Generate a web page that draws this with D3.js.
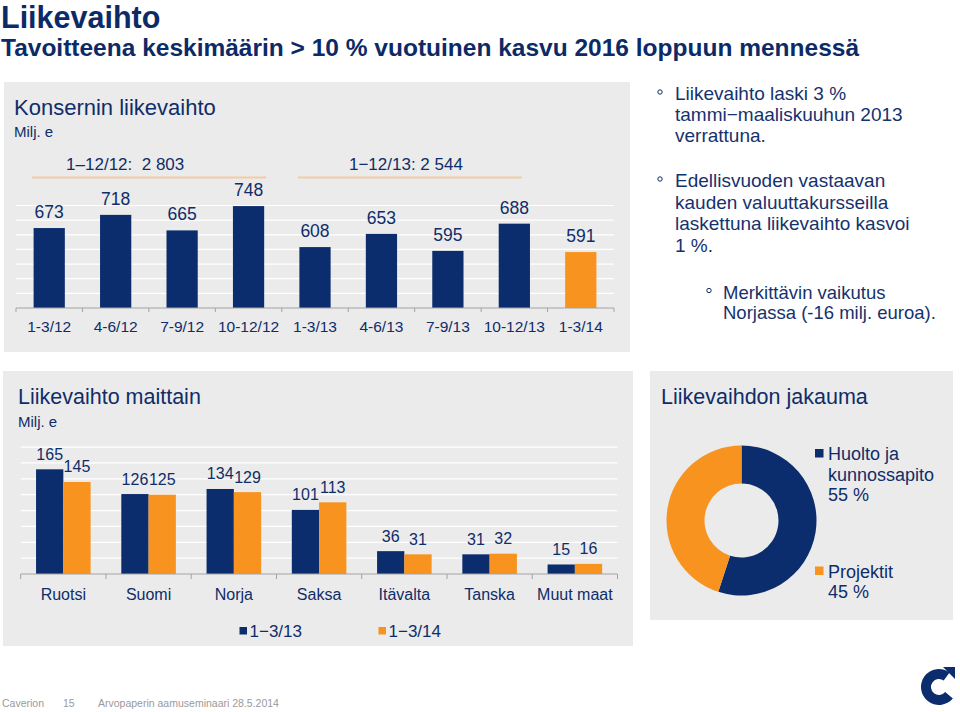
<!DOCTYPE html>
<html>
<head>
<meta charset="utf-8">
<script src="https://cdn.jsdelivr.net/npm/d3@7"></script>
<style>
  html, body { margin: 0; padding: 0; background: #ffffff; }
  svg { display: block; font-family: "Liberation Sans", Arial, sans-serif; }
</style>
</head>
<body>
<svg id="chart" width="960" height="712"></svg>
<script>
// ---------- DATA ----------
const quarters = ["1-3/12", "4-6/12", "7-9/12", "10-12/12", "1-3/13", "4-6/13", "7-9/13", "10-12/13", "1-3/14"];
const quarterValues = [673, 718, 665, 748, 608, 653, 595, 688, 591];
const yearLabels = ["1\u201312/12:  2 803", "1\u221212/13: 2 544"];
const yearQuarterIdx = [[0, 3], [4, 7]];

const countries = ["Ruotsi", "Suomi", "Norja", "Saksa", "It\u00e4valta", "Tanska", "Muut maat"];
const seriesNames = ["1\u22123/13", "1\u22123/14"];
const values2013 = [165, 126, 134, 101, 36, 31, 15];
const values2014 = [145, 125, 129, 113, 31, 32, 16];

const segmentNames = [["Huolto ja", "kunnossapito"], ["Projektit"]];
const segmentShares = [55, 45];

const topTicks = [450, 500, 550, 600, 650, 700, 750];
const bottomTicks = [25, 50, 75, 100, 125, 150, 175, 200];

// ---------- STYLE ----------
const NAVY = "#0b2d6d";
const ORANGE = "#f7931e";
const TEXT = "#0f2d69";
const PANEL = "#ebebeb";
const AXIS = "#a3a3a3";

const svg = d3.select("#chart");

// Header
svg.append("text").attr("x", 1).attr("y", 28).attr("font-size", 30.5).attr("font-weight", "bold")
  .attr("fill", "#0c2b66").text("Liikevaihto");
svg.append("text").attr("x", 1).attr("y", 55.5).attr("font-size", 24.5).attr("font-weight", "bold")
  .attr("fill", "#0c2b66").text("Tavoitteena keskim\u00e4\u00e4rin > 10 % vuotuinen kasvu 2016 loppuun menness\u00e4");

// ---------- TOP PANEL ----------
svg.append("rect").attr("x", 4).attr("y", 82).attr("width", 626).attr("height", 270).attr("fill", PANEL);
svg.append("text").attr("x", 14).attr("y", 115).attr("font-size", 22).attr("fill", TEXT).text("Konsernin liikevaihto");
svg.append("text").attr("x", 14).attr("y", 137).attr("font-size", 15).attr("fill", TEXT).text("Milj. e");

const xq = d3.scaleBand().domain(quarters).range([16, 614]).paddingInner(0.53).paddingOuter(0.265);
const yq = d3.scaleLinear().domain([400, 750]).range([308, 205.5]);

const gTop = svg.append("g");
gTop.selectAll("line.grid").data(topTicks).join("line")
  .attr("x1", 16).attr("x2", 614).attr("y1", d => yq(d)).attr("y2", d => yq(d))
  .attr("stroke", "#ffffff").attr("stroke-width", 1.2);

gTop.selectAll("rect.bar").data(quarterValues).join("rect")
  .attr("x", (d, i) => xq(quarters[i])).attr("width", xq.bandwidth())
  .attr("y", d => yq(d)).attr("height", d => yq(400) - yq(d))
  .attr("fill", (d, i) => i === quarterValues.length - 1 ? ORANGE : NAVY);

gTop.selectAll("text.val").data(quarterValues).join("text")
  .attr("x", (d, i) => xq(quarters[i]) + xq.bandwidth() / 2).attr("y", d => yq(d) - 10)
  .attr("text-anchor", "middle").attr("font-size", 17.5).attr("fill", TEXT).text(d => d);

// axis
gTop.append("line").attr("x1", 16).attr("x2", 614).attr("y1", yq(400)).attr("y2", yq(400)).attr("stroke", AXIS);
gTop.selectAll("line.tick").data(d3.range(quarters.length + 1)).join("line")
  .attr("x1", i => 16 + i * xq.step()).attr("x2", i => 16 + i * xq.step())
  .attr("y1", yq(400)).attr("y2", yq(400) + 4).attr("stroke", AXIS);
gTop.selectAll("text.cat").data(quarters).join("text")
  .attr("x", d => xq(d) + xq.bandwidth() / 2).attr("y", 332)
  .attr("text-anchor", "middle").attr("font-size", 15.5).attr("fill", TEXT).text(d => d);

// year brackets
yearQuarterIdx.forEach((pair, k) => {
  const x1 = xq(quarters[pair[0]]) - 1.5;
  const x2 = xq(quarters[pair[1]]) + xq.bandwidth() + (k === 0 ? 2 : -8);
  gTop.append("line").attr("x1", x1).attr("x2", x2).attr("y1", 177.5).attr("y2", 177.5)
    .attr("stroke", "#f3cba6").attr("stroke-width", 2);
  gTop.append("text")
    .attr("x", k === 0 ? x1 + 34 : (x1 + x2) / 2 - 4).attr("y", 170)
    .attr("text-anchor", k === 0 ? "start" : "middle")
    .attr("font-size", 17).attr("fill", TEXT).attr("xml:space", "preserve").style("white-space", "pre")
    .text(yearLabels[k]);
});

// ---------- RIGHT BULLETS ----------
const bullets = [
  { bx: 658, tx: 675, y: 100, dy: 21.2, fs: 19, lines: ["Liikevaihto laski 3 %", "tammi\u2212maaliskuuhun 2013", "verrattuna."] },
  { bx: 658, tx: 675, y: 187, dy: 21.6, fs: 19, lines: ["Edellisvuoden vastaavan", "kauden valuuttakursseilla", "laskettuna liikevaihto kasvoi", "1 %."] },
  { bx: 707, tx: 723, y: 298.5, dy: 20, fs: 18.5, lines: ["Merkitt\u00e4vin vaikutus", "Norjassa (-16 milj. euroa)."] }
];
bullets.forEach(b => {
  svg.append("circle").attr("cx", b.bx + 2).attr("cy", b.y - 8).attr("r", 2.2)
    .attr("fill", "none").attr("stroke", TEXT).attr("stroke-width", 1);
  const t = svg.append("text").attr("font-size", b.fs).attr("fill", "#16326d");
  b.lines.forEach((ln, i) => {
    t.append("tspan").attr("x", b.tx).attr("y", b.y + i * b.dy).text(ln);
  });
});

// ---------- BOTTOM-LEFT PANEL ----------
svg.append("rect").attr("x", 3).attr("y", 371).attr("width", 630).attr("height", 275).attr("fill", PANEL);
svg.append("text").attr("x", 18).attr("y", 404).attr("font-size", 21.5).attr("fill", TEXT).text("Liikevaihto maittain");
svg.append("text").attr("x", 18).attr("y", 427).attr("font-size", 15).attr("fill", TEXT).text("Milj. e");

const x0 = d3.scaleBand().domain(countries).range([20.7, 617.5]).paddingInner(0.36).paddingOuter(0.18);
const x1 = d3.scaleBand().domain(seriesNames).range([0, x0.bandwidth()]);
const yc = d3.scaleLinear().domain([0, 200]).range([574, 447.1]);

const gBot = svg.append("g");
gBot.selectAll("line.grid").data(bottomTicks).join("line")
  .attr("x1", 20.7).attr("x2", 617.5).attr("y1", d => yc(d)).attr("y2", d => yc(d))
  .attr("stroke", "#ffffff").attr("stroke-width", 1.2);

const seriesData = [values2013, values2014];
const seriesColors = [NAVY, ORANGE];
seriesData.forEach((vals, s) => {
  gBot.selectAll("rect.s" + s).data(vals).join("rect")
    .attr("x", (d, i) => x0(countries[i]) + x1(seriesNames[s])).attr("width", x1.bandwidth())
    .attr("y", d => yc(d)).attr("height", d => yc(0) - yc(d)).attr("fill", seriesColors[s]);
  gBot.selectAll("text.v" + s).data(vals).join("text")
    .attr("x", (d, i) => x0(countries[i]) + x1(seriesNames[s]) + x1.bandwidth() / 2)
    .attr("y", d => yc(d) - 9.5).attr("text-anchor", "middle")
    .attr("font-size", 16).attr("fill", TEXT).text(d => d);
});

gBot.append("line").attr("x1", 20.7).attr("x2", 617.5).attr("y1", yc(0)).attr("y2", yc(0)).attr("stroke", AXIS);
gBot.selectAll("line.tick").data(d3.range(countries.length + 1)).join("line")
  .attr("x1", i => 20.7 + i * x0.step()).attr("x2", i => 20.7 + i * x0.step())
  .attr("y1", yc(0)).attr("y2", yc(0) + 5).attr("stroke", AXIS);
gBot.selectAll("text.cat").data(countries).join("text")
  .attr("x", d => x0(d) + x0.bandwidth() / 2).attr("y", 600)
  .attr("text-anchor", "middle").attr("font-size", 16).attr("fill", TEXT).text(d => d);

// legend
const legendX = [239.5, 378.5];
seriesNames.forEach((n, s) => {
  svg.append("rect").attr("x", legendX[s]).attr("y", 627).attr("width", 7.5).attr("height", 7.5).attr("fill", seriesColors[s]);
  svg.append("text").attr("x", legendX[s] + 10).attr("y", 636.5).attr("font-size", 17).attr("fill", TEXT).text(n);
});

// ---------- DONUT PANEL ----------
svg.append("rect").attr("x", 650).attr("y", 371).attr("width", 303).attr("height", 249).attr("fill", PANEL);
svg.append("text").attr("x", 661).attr("y", 404).attr("font-size", 21.5).attr("fill", TEXT).text("Liikevaihdon jakauma");

const pie = d3.pie().sort(null).value(d => d);
const arc = d3.arc().innerRadius(37).outerRadius(75);
const gDonut = svg.append("g").attr("transform", "translate(741.5,520.5)");
gDonut.selectAll("path").data(pie(segmentShares)).join("path")
  .attr("d", arc).attr("fill", (d, i) => seriesColors[i]);

const donutLegendY = [449, 566.5];
segmentNames.forEach((lines, i) => {
  svg.append("rect").attr("x", 815).attr("y", donutLegendY[i]).attr("width", 8.5).attr("height", 8.5).attr("fill", seriesColors[i]);
  const t = svg.append("text").attr("font-size", 18).attr("fill", TEXT);
  const all = lines.concat([segmentShares[i] + " %"]);
  all.forEach((ln, j) => {
    t.append("tspan").attr("x", 828).attr("y", donutLegendY[i] + 11 + j * 20.5).text(ln);
  });
});

// ---------- FOOTER ----------
const foot = svg.append("g").attr("font-size", 10.5).attr("fill", "#9a9a9a");
foot.append("text").attr("x", 2).attr("y", 707).text("Caverion");
foot.append("text").attr("x", 63).attr("y", 707).text("15");
foot.append("text").attr("x", 98).attr("y", 707).text("Arvopaperin aamuseminaari 28.5.2014");

// logo
const logo = svg.append("g").attr("transform", "translate(939,687)");
logo.append("path")
  .attr("d", d3.arc().innerRadius(8).outerRadius(18).startAngle(Math.PI * 0.72).endAngle(Math.PI * 2 + Math.PI * 0.2)())
  .attr("fill", NAVY);
logo.append("path").attr("d", "M4,-20 L16,-20 L16,-8 Z").attr("fill", NAVY);
</script>
</body>
</html>
